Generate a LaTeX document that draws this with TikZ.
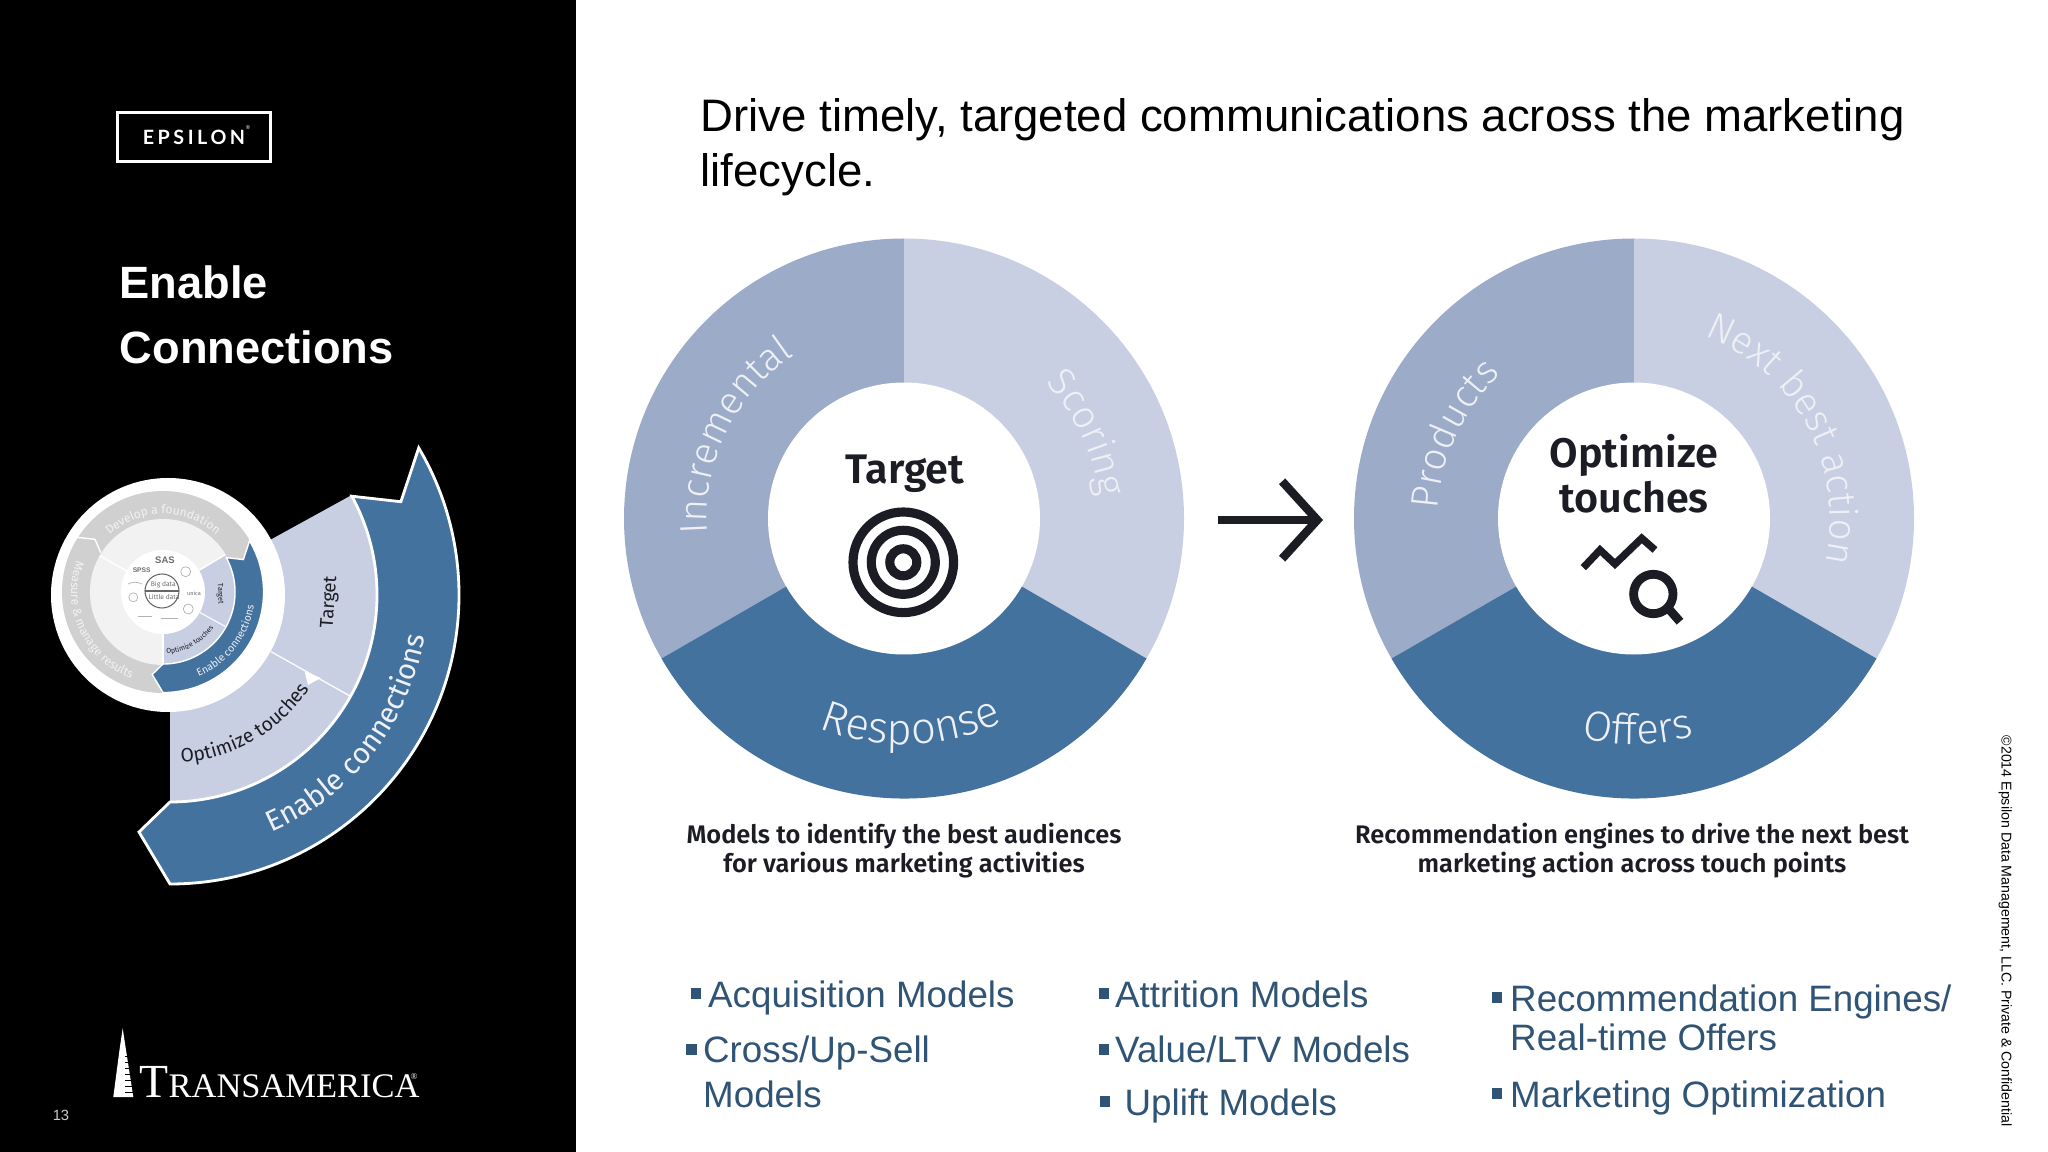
\documentclass[tikz,border=0pt]{standalone}
\usepackage{fontspec}
\usetikzlibrary{arrows.meta,decorations.text}
\setmainfont{Liberation Sans}
\newfontfamily\ringface{Fira Sans Light}
\newfontfamily\headface{Fira Sans SemiBold}
\newfontfamily\bandface{Fira Sans}
\newfontfamily\logoface{Liberation Serif}
\newfontfamily\epsilonface[LetterSpace=18]{Lato}
\newcommand{\fsize}[1]{\fontsize{#1}{#1}\selectfont}
\definecolor{bandblue}{HTML}{43729E}
\definecolor{sectordark}{HTML}{9CABC8}
\definecolor{sectorlight}{HTML}{C9CFE2}
\definecolor{ringtext}{HTML}{EEF0F6}
\definecolor{listblue}{HTML}{305475}
\definecolor{inkdark}{HTML}{1C1D24}
\definecolor{greyband}{HTML}{D0D0D0}
\definecolor{greymid}{HTML}{F2F2F2}
\tikzset{
  sidetext/.style={anchor=base west,inner sep=0,text=white},
  listtext/.style={anchor=base west,inner sep=0,text=listblue,font=\fsize{10.45}},
  bulletmark/.style={fill=listblue,inner sep=0,minimum size=0.105cm},
  captext/.style={anchor=base,inner sep=0,text=inkdark,font=\headface\fsize{7.22}},
  headtext/.style={anchor=base,inner sep=0,text=inkdark,font=\headface\fsize{11.75}},
  bandedge/.style={fill=bandblue,draw=white,line join=miter},
  logomark/.style={draw=gray!60,line width=0.2pt},
  tinytext/.style={inner sep=0,text=gray!85!black},
}
% curved label: centre, start angle, end angle, radius, colour, font, text
\newcommand{\curvedtext}[7]{\path[decorate,decoration={text along path,text align=center,text color=#5,text={|#6|#7}}] (#1) ++(#2:#4) arc[start angle=#2,end angle=#3,radius=#4];}
% arrow band, drawn around (0,0) with outer radius 289
\newcommand{\bandshape}{(30.6:289) -- (22:249) -- (28.5:207) arc[start angle=28.5,end angle=-90,radius=207] -- (-31,-237) -- (-90:289) arc[start angle=-90,end angle=30.6,radius=289] -- cycle}
\begin{document}
\begin{tikzpicture}[x=0.01cm,y=0.01cm]
  \useasboundingbox (0,-1152) rectangle (2048,0);
  \fill[white] (0,-1152) rectangle (2048,0);
  \fill[black] (0,-1152) rectangle (576,0);

  % left panel
  \node[draw=white,line width=0.85pt,minimum width=1.53cm,minimum height=0.49cm,inner sep=0,text=white,font=\epsilonface\bfseries\fsize{5.6}] (epsilonbox) at (194,-137) {EPSILON};
  \node[text=white,inner sep=0,font=\fsize{1.6}] (epsilonmark) at (248,-128) {®};
  \node[sidetext,font=\bfseries\fsize{12.87}] (sidetitlea) at (119,-299) {Enable};
  \node[sidetext,font=\bfseries\fsize{12.87}] (sidetitleb) at (119,-364) {Connections};

  \coordinate (bigc) at (170,-595);
  \coordinate (discc) at (168,-595);
  \coordinate (smallc) at (163,-592);

  % big band around the small wheel
  \begin{scope}[shift={(bigc)}]
    \fill[sectorlight] (0,0) -- (28.8:207) arc[start angle=28.8,end angle=-90,radius=207] -- cycle;
    \draw[white,line width=0.35pt] (-29.3:116) -- (-29.3:207);
    \fill[white] (134.7,-76.7) -- (151,-83) -- (138,-90) -- cycle;
    \draw[bandedge,line width=0.8pt] \bandshape;
  \end{scope}
  \node[rotate=86,inner sep=0,text=inkdark,font=\bandface\fsize{5.3}] (bigtarget) at (330,-602) {Target};
  \curvedtext{bigc}{-120}{0}{168}{inkdark}{\bandface\fsize{5.5}}{Optimize touches}
  \curvedtext{bigc}{-98}{22}{258}{ringtext}{\bandface\fsize{8.3}}{Enable connections}

  % small wheel
  \fill[white] (discc) circle (117);
  \fill[greyband] (smallc) circle (101);
  \fill[greymid] (smallc) circle (73);
  \begin{scope}[shift={(smallc)}]
    \fill[sectorlight] (0,0) -- (31:73) arc[start angle=31,end angle=-90,radius=73] -- cycle;
    \draw[white,line width=0.4pt] (31:42) -- (31:73);
    \draw[white,line width=0.4pt] (150:42) -- (150:73);
    \draw[white,line width=0.3pt] (-29:42) -- (-29:73);
    \draw[white,line width=0.3pt] (-90:42) -- (-90:73);
    \begin{scope}[scale=0.348]
      \draw[bandedge,line width=0.4pt] \bandshape;
    \end{scope}
  \end{scope}
  \draw[white,line width=0.4pt] (76.7,-537.3) -- (95,-539.3) -- (100.7,-552.7);
  \fill[white] (smallc) circle (42);
  \draw[gray!80!black,line width=0.3pt] (162,-591) circle (17);
  \draw[gray!80!black,line width=0.3pt] (145,-591) -- (179,-591);
  \node[tinytext,font=\bandface\fsize{1.9}] (bigdata) at (163.3,-584.3) {Big data};
  \node[tinytext,font=\bandface\fsize{1.9}] (littledata) at (164,-597.3) {Little data};
  \node[tinytext,font=\bfseries\fsize{2.7}] (saslogo) at (165,-560) {SAS};
  \node[tinytext,font=\bfseries\fsize{1.9}] (spsslogo) at (141.7,-570) {SPSS};
  \node[tinytext,font=\bandface\fsize{1.6}] (unicalogo) at (194,-593.3) {unica};
  \draw[logomark] (133.3,-597.3) circle (4.5);
  \draw[logomark] (185.7,-571.7) circle (5);
  \draw[logomark] (188.3,-609) circle (5);
  \draw[logomark] (128,-584) to[bend left=25] (142,-584);
  \draw[logomark] (138,-616) -- (152,-616);
  \draw[logomark] (161,-618) -- (178,-618);
  \curvedtext{smallc}{160}{20}{78}{greymid}{\bandface\fsize{3.4}}{Develop a foundation}
  \curvedtext{smallc}{145}{265}{92}{greymid}{\bandface\fsize{3.4}}{Measure {\&} manage results}
  \curvedtext{smallc}{-98}{22}{92}{ringtext}{\bandface\fsize{3}}{Enable connections}
  \curvedtext{smallc}{-121}{-1}{62}{inkdark}{\bandface\fsize{2}}{Optimize touches}
  \node[rotate=-88,inner sep=0,text=inkdark,font=\bandface\fsize{2.1}] (smalltarget) at (220,-594) {Target};

  % logo
  \fill[white] (122.7,-1028.3) -- (126,-1050) -- (133.3,-1097) -- (113.3,-1097) -- (119.5,-1050) -- cycle;
  \foreach \y in {1056,1062,...,1092}
    \draw[black,line width=0.2pt] (125,-\y) -- (134,-\y);
  \node[sidetext,font=\logoface] (logotext) at (139,-1097) {\fsize{13.5}T\fsize{9.8}RANSAMERICA};
  \node[text=white,inner sep=0,font=\logoface\fsize{2.6}] (logomarkr) at (414,-1076) {®};
  \node[inner sep=0,text=gray!40,font=\fsize{4.2}] (pagenum) at (61,-1115) {13};

  % heading
  \node[anchor=base west,inner sep=0,font=\fsize{12.95}] (titlea) at (700,-131.7) {Drive timely, targeted communications across the marketing};
  \node[anchor=base west,inner sep=0,font=\fsize{12.95}] (titleb) at (700,-186.7) {lifecycle.};

  % donuts
  \coordinate (leftc) at (904,-518.5);
  \coordinate (rightc) at (1634,-518.5);
  \foreach \c in {leftc,rightc} {
    \begin{scope}[shift={(\c)}]
      \fill[sectordark] (0,0) -- (90:280) arc[start angle=90,end angle=210,radius=280] -- cycle;
      \fill[sectorlight] (0,0) -- (90:280) arc[start angle=90,end angle=-30,radius=280] -- cycle;
      \fill[bandblue] (0,0) -- (210:280) arc[start angle=210,end angle=330,radius=280] -- cycle;
      \fill[white] (0,0) circle (136);
    \end{scope}
  }
  \curvedtext{leftc}{214}{94}{197}{ringtext}{\ringface\fsize{11}}{Incremental}
  \curvedtext{leftc}{85}{-35}{196}{ringtext}{\ringface\fsize{11}}{Scoring}
  \curvedtext{leftc}{212}{332}{226}{ringtext}{\ringface\fsize{12.5}}{Response}
  \curvedtext{rightc}{215}{95}{196}{ringtext}{\ringface\fsize{11}}{Products}
  \curvedtext{rightc}{88}{-32}{196}{ringtext}{\ringface\fsize{11}}{Next best action}
  \curvedtext{rightc}{211}{331}{226}{ringtext}{\ringface\fsize{12}}{Offers}

  % centre labels and icons
  \node[headtext] (targethead) at (905,-484) {Target};
  \foreach \r in {50.3,32,13.5}
    \draw[inkdark,line width=2.6pt] (903.3,-562.3) circle (\r);
  \node[headtext] (optimizehead) at (1634,-467.7) {Optimize};
  \node[headtext] (toucheshead) at (1634,-513) {touches};
  \draw[inkdark,line width=2.1pt,line join=miter] (1583.3,-567.7) -- (1600,-550) -- (1615,-564) -- (1641.7,-538.3) -- (1655,-550);
  \draw[inkdark,line width=2.5pt] (1653.3,-594) circle (19.7);
  \draw[inkdark,line width=2.5pt] (1668,-608) -- (1680,-621.7);

  % arrow
  \coordinate (arrowstart) at (1218,-520);
  \coordinate (arrowend) at (1323,-520);
  \draw[inkdark,line width=2.4pt,-{Straight Barb[length=10pt,width=22pt]}] (arrowstart) -- (arrowend);

  % captions
  \node[captext] (capa) at (904,-843) {Models to identify the best audiences};
  \node[captext] (capb) at (904,-872) {for various marketing activities};
  \node[captext] (capc) at (1632,-843) {Recommendation engines to drive the next best};
  \node[captext] (capd) at (1632,-872) {marketing action across touch points};

  % lists
  \node[bulletmark] (bula) at (696,-993.5) {};
  \node[listtext] (lista) at (707.5,-1007) {Acquisition Models};
  \node[bulletmark] (bulb) at (691.5,-1049.5) {};
  \node[listtext] (listb) at (702.5,-1062) {Cross/Up-Sell};
  \node[listtext] (listbb) at (702.5,-1107) {Models};
  \node[bulletmark] (bulc) at (1104,-993.5) {};
  \node[listtext] (listc) at (1114.5,-1007) {Attrition Models};
  \node[bulletmark] (buld) at (1104,-1049.5) {};
  \node[listtext] (listd) at (1114.5,-1062) {Value/LTV Models};
  \node[bulletmark] (bule) at (1105,-1101.5) {};
  \node[listtext] (liste) at (1124,-1115) {Uplift Models};
  \node[bulletmark] (bulf) at (1497,-997.5) {};
  \node[listtext] (listf) at (1509.5,-1011) {Recommendation Engines/};
  \node[listtext] (listff) at (1509.5,-1050.5) {Real-time Offers};
  \node[bulletmark] (bulg) at (1497,-1093.5) {};
  \node[listtext] (listg) at (1509.5,-1107) {Marketing Optimization};

  \node[rotate=-90,anchor=base west,inner sep=0,font=\fsize{4.03}] (footer) at (2001.7,-735) {©2014 Epsilon Data Management, LLC. Private \& Confidential};
\end{tikzpicture}
\end{document}
